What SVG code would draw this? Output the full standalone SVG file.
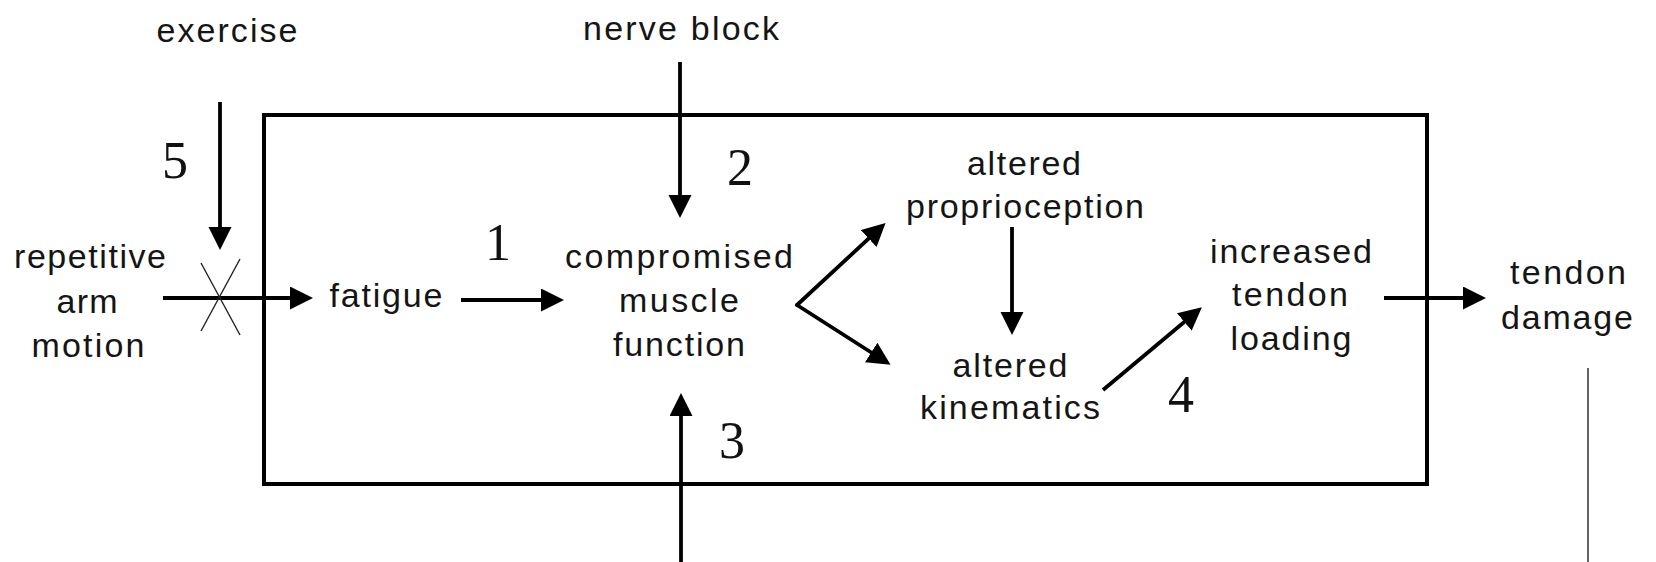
<svg xmlns="http://www.w3.org/2000/svg" width="1656" height="562" viewBox="0 0 1656 562">
<style>
.t{font-family:"Liberation Sans",Arial,sans-serif;font-size:34px;fill:#151515;text-anchor:middle}
.n{font-family:"Liberation Serif","Times New Roman",serif;font-size:52px;fill:#111;text-anchor:middle}
.c{stroke:#000;stroke-width:3.8;fill:none;marker-end:url(#ah)}
.thin{stroke:#222;stroke-width:1.4;fill:none}
</style>
<defs>
<marker id="ah" markerUnits="userSpaceOnUse" markerWidth="24" markerHeight="24" refX="14" refY="11.5" orient="auto">
<path d="M0,0 L23,11.5 L0,23 z" fill="#000"/>
</marker>
</defs>
<rect width="1656" height="562" fill="#fff"/>
<rect id="box" x="264" y="115" width="1163" height="369" fill="none" stroke="#000" stroke-width="4"/>
<g id="connectors">
<line class="c" x1="220" y1="102" x2="220" y2="241"/>
<line class="c" x1="163" y1="298" x2="304" y2="298"/>
<line class="thin" x1="201" y1="263" x2="240" y2="335"/>
<line class="thin" x1="240" y1="259" x2="201" y2="331"/>
<line class="c" x1="461" y1="300" x2="555" y2="300"/>
<line class="c" x1="680" y1="62" x2="680" y2="209"/>
<line class="c" x1="681" y1="562" x2="681" y2="402"/>
<path class="c" d="M797,305 L879,229" stroke-linecap="round"/>
<path class="c" d="M797,305 L883,360" stroke-linecap="round"/>
<line class="c" x1="1012" y1="227" x2="1012" y2="326"/>
<line class="c" x1="1103" y1="390" x2="1195" y2="313"/>
<line class="c" x1="1384" y1="298" x2="1477" y2="298"/>
<line class="thin" x1="1588" y1="368" x2="1588" y2="562" stroke-width="1.8"/>
</g>
<g id="exercise"><text class="t" x="227" y="42" textLength="141" lengthAdjust="spacing">exercise</text></g>
<g id="nerve-block"><text class="t" x="681" y="40" textLength="196" lengthAdjust="spacing">nerve block</text></g>
<g id="repetitive-arm-motion">
<text class="t" x="90" y="268" textLength="152" lengthAdjust="spacing">repetitive</text>
<text class="t" x="87" y="313" textLength="61" lengthAdjust="spacing">arm</text>
<text class="t" x="88" y="357" textLength="113" lengthAdjust="spacing">motion</text>
</g>
<g id="fatigue"><text class="t" x="386" y="307" textLength="113" lengthAdjust="spacing">fatigue</text></g>
<g id="compromised-muscle-function">
<text class="t" x="679" y="268" textLength="228" lengthAdjust="spacing">compromised</text>
<text class="t" x="679" y="312" textLength="120" lengthAdjust="spacing">muscle</text>
<text class="t" x="679" y="356" textLength="132" lengthAdjust="spacing">function</text>
</g>
<g id="altered-proprioception">
<text class="t" x="1024" y="175" textLength="114" lengthAdjust="spacing">altered</text>
<text class="t" x="1025" y="218" textLength="238" lengthAdjust="spacing">proprioception</text>
</g>
<g id="altered-kinematics">
<text class="t" x="1010" y="377" textLength="115" lengthAdjust="spacing">altered</text>
<text class="t" x="1010" y="419" textLength="180" lengthAdjust="spacing">kinematics</text>
</g>
<g id="increased-tendon-loading">
<text class="t" x="1291" y="263" textLength="162" lengthAdjust="spacing">increased</text>
<text class="t" x="1290" y="306" textLength="116" lengthAdjust="spacing">tendon</text>
<text class="t" x="1291" y="350" textLength="121" lengthAdjust="spacing">loading</text>
</g>
<g id="tendon-damage">
<text class="t" x="1568" y="284" textLength="116" lengthAdjust="spacing">tendon</text>
<text class="t" x="1567" y="329" textLength="132" lengthAdjust="spacing">damage</text>
</g>
<g id="labels">
<text class="n" x="175" y="178">5</text>
<text class="n" x="498" y="260">1</text>
<text class="n" x="740" y="185">2</text>
<text class="n" x="732" y="458">3</text>
<text class="n" x="1181" y="412">4</text>
</g>
</svg>
